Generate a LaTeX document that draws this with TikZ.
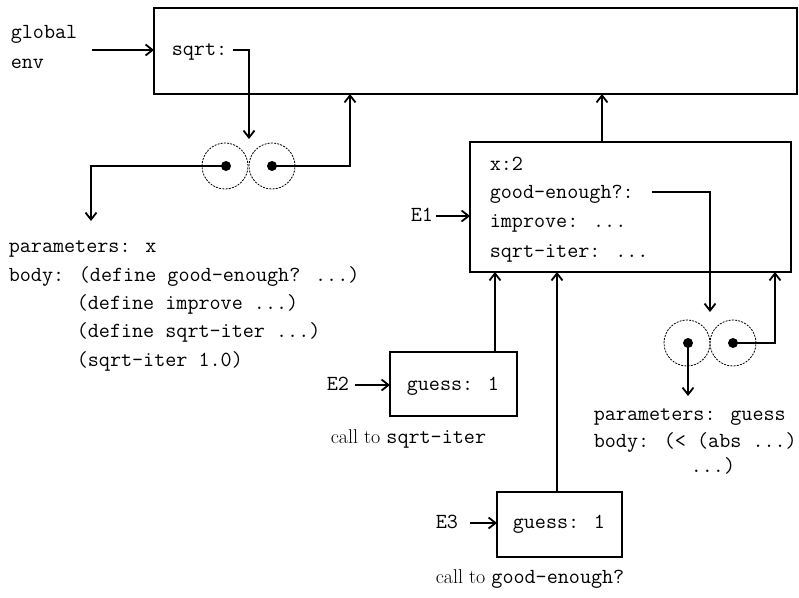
\documentclass[tikz,border=0pt]{standalone}
\usetikzlibrary{arrows.meta}
\begin{document}
\begin{tikzpicture}[x=1pt,y=-1pt,
  line width=1.6pt,
  arr/.style={-{Straight Barb[length=7pt,width=11pt,line width=1.8pt]}},
  envbox/.style={draw,line width=1.8pt,inner sep=0pt,outer sep=0pt},
  tt/.style={font=\fontsize{21.5}{25}\selectfont\ttfamily,inner sep=0pt,anchor=base west},
  rm/.style={font=\fontsize{20}{24}\selectfont,inner sep=0pt,anchor=base west},
  cell/.style={circle,draw,dash pattern=on 2pt off 1.2pt,line width=0.8pt,minimum size=46pt,inner sep=0pt},
  dot/.style={circle,fill,minimum size=10pt,inner sep=0pt}]
\useasboundingbox (0,0) rectangle (799,597);

% environment boxes
\node[envbox,minimum width=643pt,minimum height=86pt] (global) at (475.5,51) {};
\node[envbox,minimum width=321pt,minimum height=130pt] (e1) at (630.5,207) {};
\node[envbox,minimum width=127pt,minimum height=64pt] (e2) at (453.5,384) {};
\node[envbox,minimum width=125pt,minimum height=65pt] (e3) at (559.5,524.5) {};

% helper x positions
\coordinate (x350) at (350,0);
\coordinate (x602) at (602,0);
\coordinate (x775) at (775,0);
\coordinate (x495) at (495,0);
\coordinate (x557) at (557,0);

% global env label
\node[tt] (glob) at (10,38) {global};
\node[tt] (env) at (10,68) {env};
\coordinate (ga) at (92,50);
\draw[arr] (ga) -- (ga -| global.west);

% sqrt binding
\node[tt] (sqrtl) at (171,55) {sqrt:};
\coordinate (s1) at (233,50);
\coordinate (p1top) at (249,139);
\draw[arr] (s1) -| (p1top);

% procedure object 1
\node[cell] (c1) at (225,166) {};
\node[cell] (c2) at (272,166) {};
\node[dot] (d1) at (226,166) {};
\node[dot] (d2) at (272,166) {};
\coordinate (plist) at (91,221);
\draw[arr] (d1.center) -| (plist);
\draw[arr] (d2.center) -| (global.south -| x350);

\node[tt] (par1) at (8,252) {parameters: x};
\node[tt] (body1) at (8,281) {body: (define good-enough? ...)};
\node[tt] (b2) at (76,309) {(define improve ...)};
\node[tt] (b3) at (76,337) {(define sqrt-iter ...)};
\node[tt] (b4) at (76,366) {(sqrt-iter 1.0)};

% E1
\draw[arr] (e1.north -| x602) -- (global.south -| x602);
\node[tt] (x2) at (489,170) {x:2};
\node[tt] (ge) at (489,198) {good-enough?:};
\node[tt] (imp) at (489,227) {improve: ...};
\node[tt] (si) at (489,257) {sqrt-iter: ...};
\node[tt] (e1l) at (410,221) {E1};
\coordinate (e1a) at (436,216);
\draw[arr] (e1a) -- (e1a -| e1.west);
\coordinate (g1) at (652,192);
\coordinate (p2top) at (710,312);
\draw[arr] (g1) -| (p2top);

% procedure object 2
\node[cell] (c3) at (687,343) {};
\node[cell] (c4) at (733,343) {};
\node[dot] (d3) at (688,343) {};
\node[dot] (d4) at (733,343) {};
\draw[arr] (d4.center) -| (e1.south -| x775);
\coordinate (p2list) at (688,396);
\draw[arr] (d3.center) -- (p2list);

\node[tt] (par2) at (593,420) {parameters: guess};
\node[tt] (body2) at (593,447) {body: (< (abs ...)};
\node[tt] (b2b) at (690,472) {...)};

% E2
\node[tt] (e2l) at (326,390) {E2};
\coordinate (e2a) at (355,385);
\draw[arr] (e2a) -- (e2a -| e2.west);
\node[tt] (g2) at (406,390) {guess: 1};
\draw[arr] (e2.north -| x495) -- (e1.south -| x495);
\node[rm] (c2l) at (330,443) {call to {\fontsize{21.5}{25}\selectfont\ttfamily sqrt-iter}};

% E3
\node[tt] (e3l) at (435,528) {E3};
\coordinate (e3a) at (470,523);
\draw[arr] (e3a) -- (e3a -| e3.west);
\node[tt] (g3) at (512,528) {guess: 1};
\draw[arr] (e3.north -| x557) -- (e1.south -| x557);
\node[rm] (c3l) at (435,583) {call to {\fontsize{21.5}{25}\selectfont\ttfamily good-enough?}};
\end{tikzpicture}
\end{document}
